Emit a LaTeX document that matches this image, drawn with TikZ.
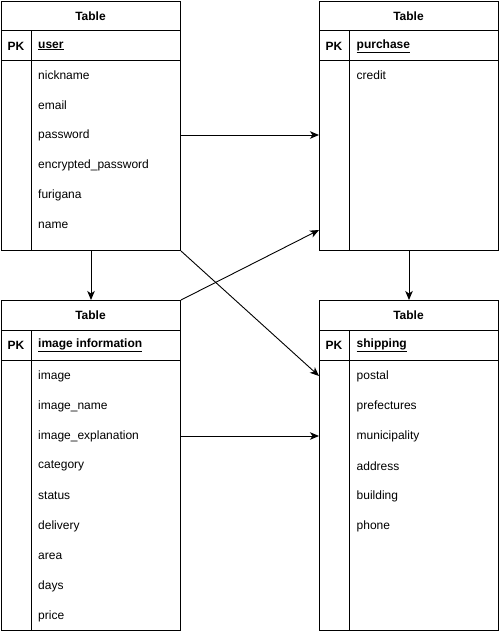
\documentclass[tikz,border=0pt]{standalone}
\usepackage{fontspec}
\setmainfont{Liberation Sans}
\usetikzlibrary{arrows.meta,calc}
\begin{document}
\begin{tikzpicture}[x=1pt,y=-1pt,
  tbl/.style={draw,line width=1pt,minimum width=179pt,anchor=north west,inner sep=0pt},
  sep/.style={line width=1pt},
  ttl/.style={font=\fontsize{12}{14}\selectfont\bfseries,inner sep=0pt},
  pk/.style={font=\fontsize{12}{14}\selectfont\bfseries,inner sep=0pt},
  key/.style={font=\fontsize{12}{14}\selectfont\bfseries,anchor=west,inner sep=0pt},
  row/.style={font=\fontsize{12}{14}\selectfont,anchor=west,inner sep=0pt},
  conn/.style={line width=0.9pt,-{Stealth[length=9pt,width=7.5pt,inset=2.5pt]}}]
\useasboundingbox (0,0) rectangle (499,631);
% tables
\node[tbl,minimum height=249pt] (user) at (1,1) {};
\node[tbl,minimum height=249pt] (purch) at (319,1) {};
\node[tbl,minimum height=330pt] (img) at (1,300) {};
\node[tbl,minimum height=330pt] (ship) at (319,300) {};
% separators
\foreach \t in {user,purch,img,ship}{
  \draw[sep] ($(\t.north west)+(0,30)$) -- ($(\t.north east)+(0,30)$);
  \draw[sep] ($(\t.north west)+(0,60)$) -- ($(\t.north east)+(0,60)$);
  \draw[sep] ($(\t.north west)+(30,30)$) -- ($(\t.south west)+(30,0)$);
}
% titles
\node[ttl] (userT) at (90.5,16) {Table};
\node[ttl] (purchT) at (408.5,16) {Table};
\node[ttl] (imgT) at (90.5,315) {Table};
\node[ttl] (shipT) at (408.5,315) {Table};
\node[pk] (userPK) at (16,46) {PK};
\node[pk] (purchPK) at (334,46) {PK};
\node[pk] (imgPK) at (16,345) {PK};
\node[pk] (shipPK) at (334,345) {PK};
\node[key] (userK) at (38,46) {\underline{user}};
\node[key] (purchK) at (356.5,46) {\underline{purchase}};
\node[key] (imgK) at (38,345) {\underline{image information}};
\node[key] (shipK) at (356.5,345) {\underline{shipping}};
% rows
\node[row] (u1) at (38,75) {nickname};
\node[row] (u2) at (38,105) {email};
\node[row] (u3) at (38,135) {password};
\node[row] (u4) at (38,165) {encrypted\_password};
\node[row] (u5) at (38,195) {furigana};
\node[row] (u6) at (38,225) {name};
\node[row] (p1) at (356.5,75) {credit};
\node[row] (i1) at (38,376) {image};
\node[row] (i2) at (38,406) {image\_name};
\node[row] (i3) at (38,436) {image\_explanation};
\node[row] (i4) at (38,466) {category};
\node[row] (i5) at (38,496) {status};
\node[row] (i6) at (38,526) {delivery};
\node[row] (i7) at (38,556) {area};
\node[row] (i8) at (38,586) {days};
\node[row] (i9) at (38,616) {price};
\node[row] (s1) at (356.5,376) {postal};
\node[row] (s2) at (356.5,406) {prefectures};
\node[row] (s3) at (356.5,436) {municipality};
\node[row] (s4) at (356.5,466) {address};
\node[row] (s5) at (356.5,496) {building};
\node[row] (s6) at (356.5,526) {phone};
\coordinate (pin) at (319,230);
% connectors
\draw[conn] (user.east |- u3) -- (purch.west |- u3);
\draw[conn] (user.south) -- (img.north);
\draw[conn] (purch.south) -- (ship.north);
\draw[conn] (user.south east) -- (ship.west |- s1);
\draw[conn] (img.north east) -- (pin);
\draw[conn] (img.east |- i3) -- (ship.west |- i3);
\end{tikzpicture}
\end{document}
